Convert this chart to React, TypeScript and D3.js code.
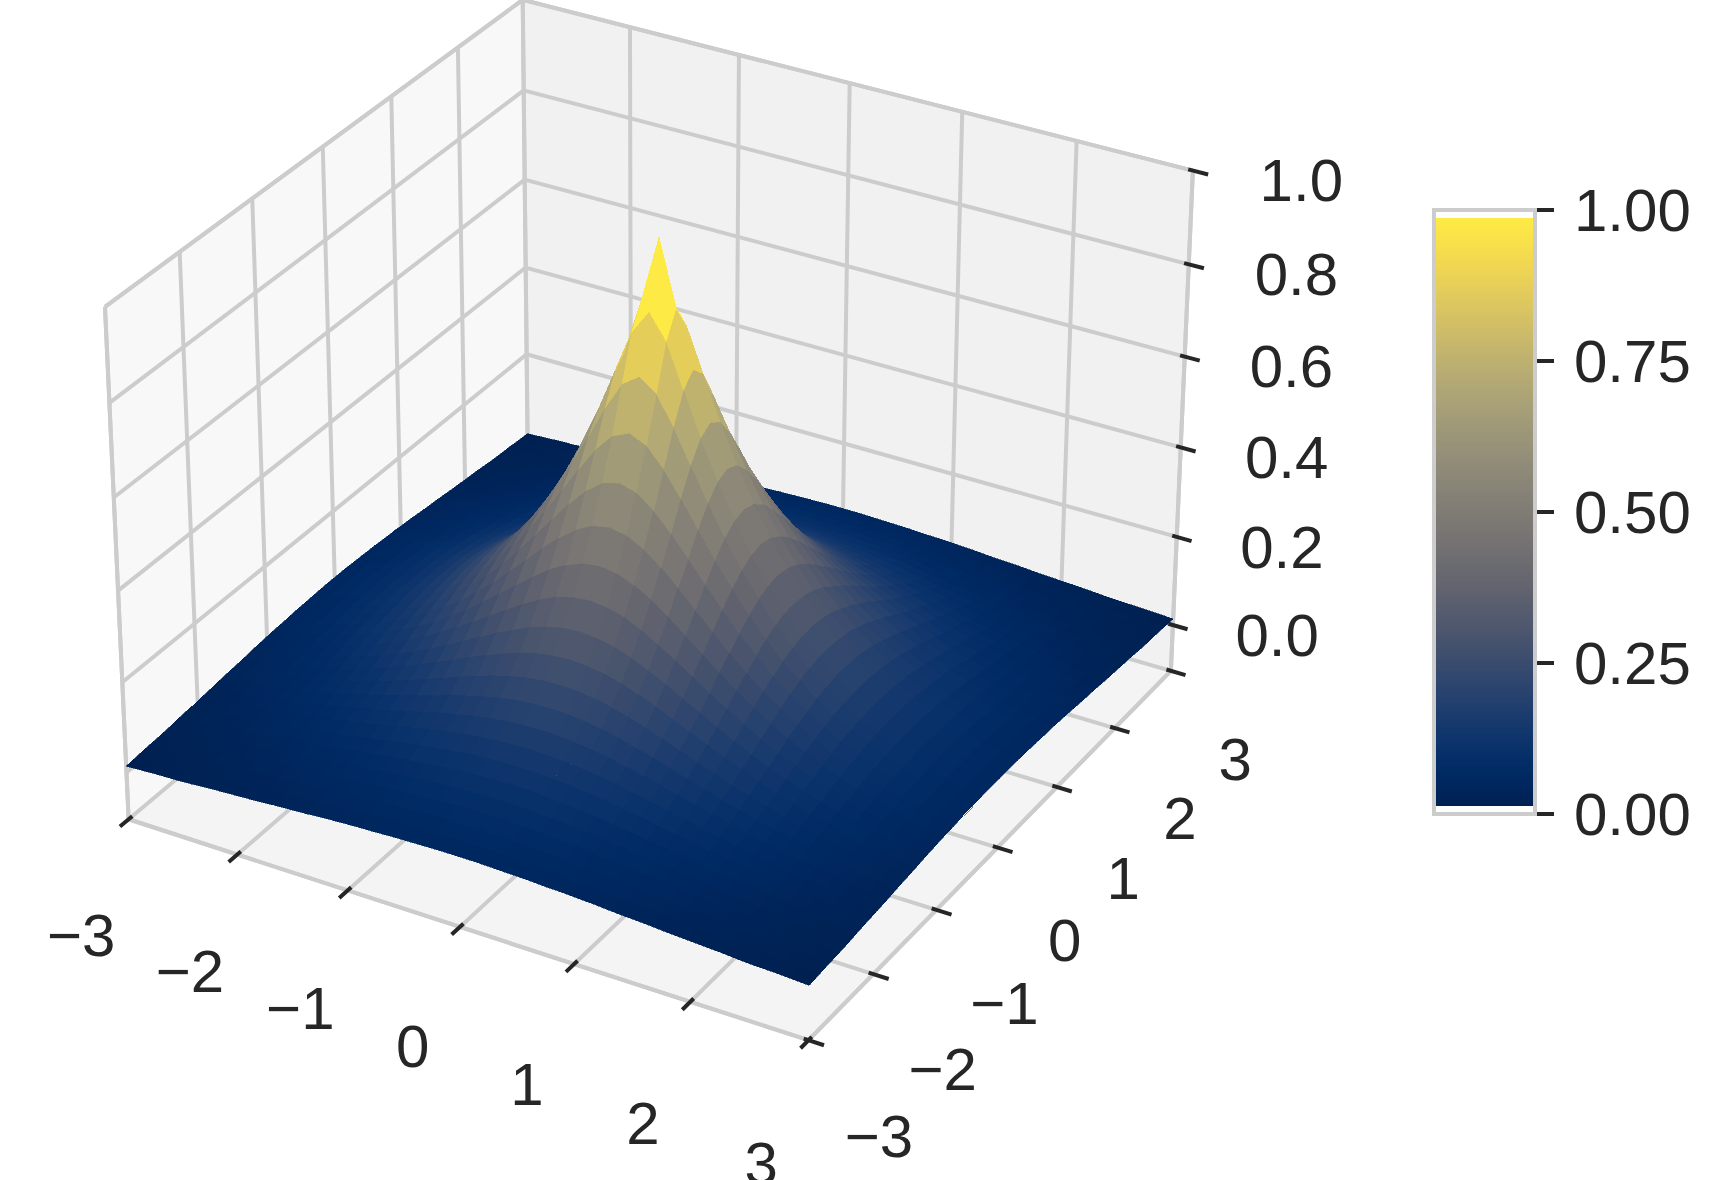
import React from "react";
import * as d3 from "d3";

const xTicks = [-3, -2, -1, 0, 1, 2, 3];
const yTicks = [-3, -2, -1, 0, 1, 2, 3];
const zTicks = [0, 0.2, 0.4, 0.6, 0.8, 1];
const colorbarTicks = [0, 0.25, 0.5, 0.75, 1];

// surface heights, one quadrant on a 0.15 step from the
// peak outwards (the hump looks the same in all four quadrants)
const gridStep = 0.15;
const surfaceRows = [
  [1.000, .861, .741, .638, .549, .472, .407, .350, .301, .259, .223, .192, .165, .142, .122, .105, .091, .078, .067, .058, .050],
  [.861, .809, .715, .622, .539, .465, .402, .346, .298, .257, .222, .191, .164, .141, .122, .105, .090, .078, .067, .058, .050],
  [.741, .715, .654, .582, .511, .446, .387, .336, .290, .251, .217, .187, .161, .139, .120, .103, .089, .077, .066, .057, .049],
  [.638, .622, .582, .529, .472, .417, .366, .319, .278, .241, .209, .181, .156, .135, .117, .101, .087, .075, .065, .056, .048],
  [.549, .539, .511, .472, .428, .383, .339, .298, .261, .228, .199, .173, .150, .130, .113, .097, .084, .073, .063, .054, .047],
  [.472, .465, .446, .417, .383, .346, .310, .275, .243, .213, .187, .163, .142, .124, .108, .093, .081, .070, .061, .052, .045],
  [.407, .402, .387, .366, .339, .310, .280, .251, .223, .198, .174, .153, .134, .117, .102, .089, .077, .067, .058, .050, .044],
  [.350, .346, .336, .319, .298, .275, .251, .226, .203, .181, .160, .141, .124, .109, .096, .083, .073, .063, .055, .048, .042],
  [.301, .298, .290, .278, .261, .243, .223, .203, .183, .164, .146, .130, .115, .101, .089, .078, .068, .060, .052, .045, .040],
  [.259, .257, .251, .241, .228, .213, .198, .181, .164, .148, .133, .119, .105, .093, .082, .073, .064, .056, .049, .043, .037],
  [.223, .222, .217, .209, .199, .187, .174, .160, .146, .133, .120, .108, .096, .085, .076, .067, .059, .052, .046, .040, .035],
  [.192, .191, .187, .181, .173, .163, .153, .141, .130, .119, .108, .097, .087, .078, .069, .061, .054, .048, .042, .037, .033],
  [.165, .164, .161, .156, .150, .142, .134, .124, .115, .105, .096, .087, .078, .070, .063, .056, .050, .044, .039, .034, .030],
  [.142, .141, .139, .135, .130, .124, .117, .109, .101, .093, .085, .078, .070, .063, .057, .051, .045, .040, .036, .032, .028],
  [.122, .122, .120, .117, .113, .108, .102, .096, .089, .082, .076, .069, .063, .057, .051, .046, .041, .037, .033, .029, .026],
  [.105, .105, .103, .101, .097, .093, .089, .083, .078, .073, .067, .061, .056, .051, .046, .042, .037, .033, .030, .026, .024],
  [.091, .090, .089, .087, .084, .081, .077, .073, .068, .064, .059, .054, .050, .045, .041, .037, .034, .030, .027, .024, .021],
  [.078, .078, .077, .075, .073, .070, .067, .063, .060, .056, .052, .048, .044, .040, .037, .033, .030, .027, .024, .022, .019],
  [.067, .067, .066, .065, .063, .061, .058, .055, .052, .049, .046, .042, .039, .036, .033, .030, .027, .024, .022, .020, .018],
  [.058, .058, .057, .056, .054, .052, .050, .048, .045, .043, .040, .037, .034, .032, .029, .026, .024, .022, .020, .018, .016],
  [.050, .050, .049, .048, .047, .045, .044, .042, .040, .037, .035, .033, .030, .028, .026, .024, .021, .019, .018, .016, .014],
];

const xLim = [-3, 3];
const yLim = [-3, 3];
const zLim = [-0.105, 1];

const textColor = "#262626";
const gridColor = "#cccccc";
const fontFamily = "'Liberation Sans', Arial, sans-serif";

// camera: elev 30, azim -60, seen from a distance
const elev = (30 * Math.PI) / 180;
const azim = (-60 * Math.PI) / 180;
const dist = 8.75;
const w = [Math.cos(elev) * Math.cos(azim), Math.cos(elev) * Math.sin(azim), Math.sin(elev)];
const u = [-Math.sin(azim), Math.cos(azim), 0];
const v = [w[1] * u[2] - w[2] * u[1], w[2] * u[0] - w[0] * u[2], w[0] * u[1] - w[1] * u[0]];

const boxX = d3.scaleLinear().domain(xLim).range([-0.5, 0.5]);
const boxY = d3.scaleLinear().domain(yLim).range([-0.5, 0.5]);
const boxZ = d3.scaleLinear().domain(zLim).range([-0.375, 0.375]);
const screenX = d3.scaleLinear().domain([0, 0.1]).range([659, 659 + 681.7]);
const screenY = d3.scaleLinear().domain([0, 0.1]).range([496, 496 - 681.7]);

const dot = (a: number[], b: number[]) => a[0] * b[0] + a[1] * b[1] + a[2] * b[2];
const box = (x: number, y: number, z: number) => [boxX(x), boxY(y), boxZ(z)];
const depth = (x: number, y: number, z: number) => dot(w, box(x, y, z));
const project = (x: number, y: number, z: number): [number, number] => {
  const q = box(x, y, z);
  const d = dist - dot(w, q);
  return [screenX(dot(u, q) / d), screenY(dot(v, q) / d)];
};

const toPath = (pts: [number, number][]) => d3.line()(pts) + "Z";
const seg = (a: number[], b: number[]) =>
  toPath([project(a[0], a[1], a[2]), project(b[0], b[1], b[2])]);

// surface cells, far ones first
const gridIndex = d3.range(-20, 21);
const heightAt = (i: number, j: number) => surfaceRows[Math.abs(i)][Math.abs(j)];
const rawCells = d3.range(40).flatMap((a) =>
  d3.range(40).map((b) => {
    const i = gridIndex[a];
    const j = gridIndex[b];
    const corners = [
      [i, j],
      [i + 1, j],
      [i + 1, j + 1],
      [i, j + 1],
    ].map(([p, r]) => [p * gridStep, r * gridStep, heightAt(p, r)]);
    return {
      corners,
      avg: d3.mean(corners, (c) => c[2]) as number,
      depth: d3.mean(corners, (c) => depth(c[0], c[1], c[2])) as number,
    };
  })
);
const cells = d3.sort(rawCells, (c) => c.depth);
const surfaceColor = d3
  .scaleSequential(d3.interpolateCividis)
  .domain(d3.extent(cells, (c) => c.avg) as [number, number]);

// colorbar
const barX = [1434, 1535];
const barY = d3.scaleLinear().domain([0, 1]).range([814, 210]);
const barRange = [0.014, 0.987];
const barSteps = d3.range(256);

const Label = ({ at, text, anchor = "middle" }: { at: [number, number]; text: string; anchor?: string }) => (
  <text
    x={at[0]}
    y={at[1]}
    fontSize={60}
    fontFamily={fontFamily}
    fill={textColor}
    textAnchor={anchor}
    dominantBaseline="central"
  >
    {text}
  </text>
);

const fmtInt = (d: number) => (d < 0 ? "\u2212" + Math.abs(d) : String(d));

export default function App() {
  const [x0, x1] = xLim;
  const [y0, y1] = yLim;
  const [z0, z1] = zLim;
  const pane = (pts: number[][], fill: string) => (
    <path d={toPath(pts.map((p) => project(p[0], p[1], p[2])))} fill={fill} stroke="none" />
  );
  return (
    <svg width={1732} height={1180} style={{ position: "absolute", left: 0, top: 0 }}>
      <rect width={1732} height={1180} fill="#ffffff" />
      {pane([[x0, y0, z0], [x0, y1, z0], [x0, y1, z1], [x0, y0, z1]], "#f8f8f8")}
      {pane([[x0, y1, z0], [x1, y1, z0], [x1, y1, z1], [x0, y1, z1]], "#f1f1f1")}
      {pane([[x0, y0, z0], [x1, y0, z0], [x1, y1, z0], [x0, y1, z0]], "#f4f4f4")}

      <g stroke={gridColor} strokeWidth={4} fill="none">
        {xTicks.map((t) => (
          <g key={t}>
            <path d={seg([t, y0, z0], [t, y1, z0])} />
            <path d={seg([t, y1, z0], [t, y1, z1])} />
          </g>
        ))}
        {yTicks.map((t) => (
          <g key={t}>
            <path d={seg([x0, t, z0], [x1, t, z0])} />
            <path d={seg([x0, t, z0], [x0, t, z1])} />
          </g>
        ))}
        {zTicks.map((t) => (
          <g key={t}>
            <path d={seg([x0, y0, t], [x0, y1, t])} />
            <path d={seg([x0, y1, t], [x1, y1, t])} />
          </g>
        ))}
        <path d={toPath([[x0, y0, z1], [x0, y1, z1], [x1, y1, z1]].map((p) => project(p[0], p[1], p[2]))).replace("Z", "")} />
        <path d={seg([x0, y0, z0], [x0, y0, z1])} />
        <path d={seg([x1, y1, z0], [x1, y1, z1])} />
        <path d={seg([x0, y0, z0], [x1, y0, z0])} />
        <path d={seg([x1, y0, z0], [x1, y1, z0])} />
      </g>

      <g stroke={textColor} strokeWidth={4} strokeLinecap="round" fill="none">
        {xTicks.map((t) => (
          <path key={t} d={seg([t, y0 - 0.12, z0], [t, y0 + 0.05, z0])} />
        ))}
        {yTicks.map((t) => (
          <path key={t} d={seg([x1 - 0.04, t, z0], [x1 + 0.13, t, z0])} />
        ))}
        {zTicks.map((t) => (
          <path key={t} d={seg([x1 - 0.04, y1, t], [x1 + 0.13, y1, t])} />
        ))}
      </g>

      <g shapeRendering="crispEdges">
        {cells.map((c, i) => {
          const col = surfaceColor(c.avg);
          return (
            <path
              key={i}
              d={toPath(c.corners.map((p) => project(p[0], p[1], p[2])))}
              fill={col}
              stroke={col}
              strokeWidth={0.6}
            />
          );
        })}
      </g>

      {xTicks.map((t) => (
        <Label key={t} at={project(t, y0 - 0.7, z0 - 0.165)} text={fmtInt(t)} />
      ))}
      {yTicks.map((t) => (
        <Label key={t} at={project(x1 + 0.6, t, z0 - 0.16)} text={fmtInt(t)} />
      ))}
      {zTicks.map((t) => (
        <Label key={t} at={project(x1 + 0.79, y1 + 0.27, t)} text={t.toFixed(1)} />
      ))}

      <g shapeRendering="crispEdges">
        {barSteps.map((s) => {
          const a = barRange[0] + ((barRange[1] - barRange[0]) * s) / 256;
          const b = barRange[0] + ((barRange[1] - barRange[0]) * (s + 1)) / 256;
          return (
            <rect
              key={s}
              x={barX[0]}
              width={barX[1] - barX[0]}
              y={barY(b)}
              height={barY(a) - barY(b) + 0.5}
              fill={d3.interpolateCividis(s / 255)}
            />
          );
        })}
      </g>
      <rect
        x={barX[0]}
        y={barY(1)}
        width={barX[1] - barX[0]}
        height={barY(0) - barY(1)}
        fill="none"
        stroke={gridColor}
        strokeWidth={4}
      />
      {colorbarTicks.map((t) => (
        <g key={t}>
          <line x1={barX[1] + 2} x2={1554} y1={barY(t)} y2={barY(t)} stroke={textColor} strokeWidth={4} />
          <text
            x={1574}
            y={barY(t)}
            fontSize={60}
            fontFamily={fontFamily}
            fill={textColor}
            dominantBaseline="central"
          >
            {t.toFixed(2)}
          </text>
        </g>
      ))}
    </svg>
  );
}
